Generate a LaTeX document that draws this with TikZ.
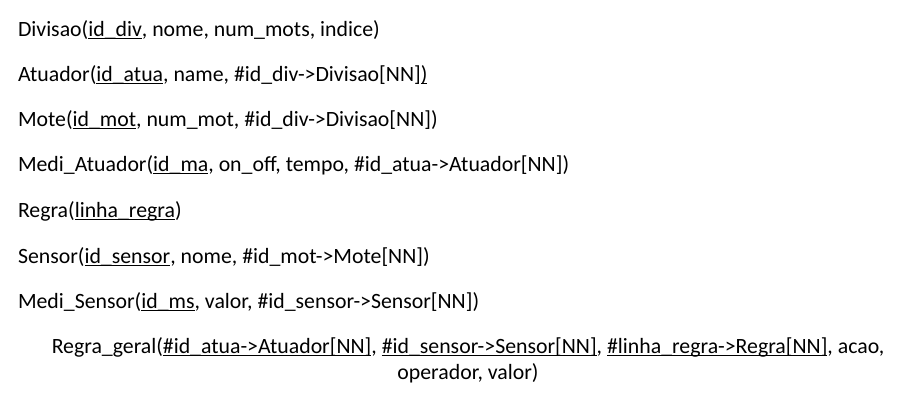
\documentclass[tikz,border=0pt]{standalone}
\usepackage{fontspec}
\setmainfont{Carlito}
% key attribute underline, drawn at the level of the underscore glyph
\newdimen\keyuldp
\newdimen\keyulht
\newcommand{\keyul}[1]{%
  \setbox2=\hbox{\_}\keyuldp=\dp2 \keyulht=-\keyuldp \advance\keyulht by 1.3bp
  \setbox0=\hbox{#1}\rlap{\vrule height \keyulht depth \keyuldp width \wd0}\box0}
\begin{document}
\begin{tikzpicture}[x=1bp,y=-1bp,
  rel/.style={anchor=base west,inner sep=0pt,outer sep=0pt,
    font=\fontsize{21.8bp}{25bp}\selectfont,text=black},
  relc/.style={rel,anchor=base}]
\useasboundingbox[fill=white] (0,0) rectangle (902,403);
\node[rel] (divisao) at (18,36) {Divisao(\keyul{id\_div}, nome, num\_mots, indice)};
\node[rel] (atuador) at (18,81) {Atuador(\keyul{id\_atua}, name, \#id\_div->Divisao[NN]\keyul{)}};
\node[rel] (mote) at (18,126) {Mote(\keyul{id\_mot}, num\_mot, \#id\_div->Divisao[NN])};
\node[rel] (mediatuador) at (18,171) {Medi\_Atuador(\keyul{id\_ma}, on\_off, tempo, \#id\_atua->Atuador[NN])};
\node[rel] (regra) at (18,217.5) {Regra(\keyul{linha\_regra})};
\node[rel] (sensor) at (18,263) {Sensor(\keyul{id\_sensor}, nome, \#id\_mot->Mote[NN])};
\node[rel] (medisensor) at (18,308) {Medi\_Sensor(\keyul{id\_ms}, valor, \#id\_sensor->Sensor[NN])};
\node[relc] (regrageral) at (468,353) {Regra\_geral(\keyul{\#id\_atua->Atuador[NN]}, \keyul{\#id\_sensor->Sensor[NN]}, \keyul{\#linha\_regra->Regra[NN]}, acao,};
\node[relc] (regrageral2) at (468,379) {operador, valor)};
\end{tikzpicture}
\end{document}
